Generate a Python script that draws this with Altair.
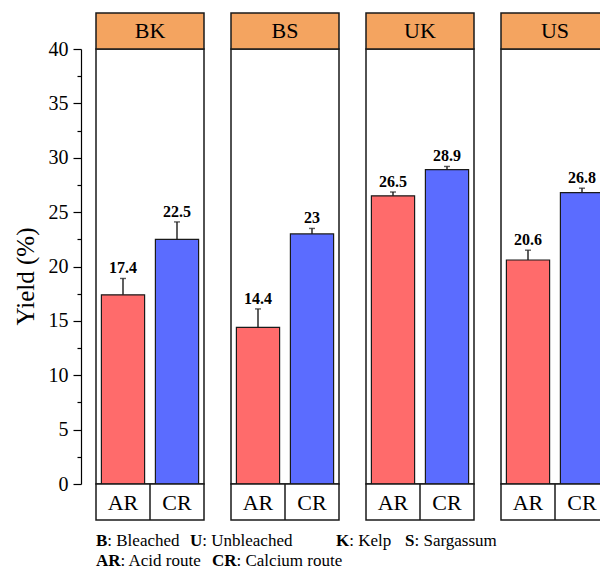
import altair as alt
import pandas as pd

# Yield of extraction per sample and route
samples = ["BK", "BS", "UK", "US"]
routes = ["AR", "CR"]
ar_yield = [17.4, 14.4, 26.5, 20.6]
cr_yield = [22.5, 23.0, 28.9, 26.8]
ar_err = [1.5, 1.7, 0.35, 0.9]
cr_err = [1.6, 0.5, 0.3, 0.4]
route_colors = ["#FF6B6B", "#5B6CFF"]
y_ticks = [0, 2.5, 5, 7.5, 10, 12.5, 15, 17.5, 20, 22.5, 25, 27.5, 30, 32.5, 35, 37.5, 40]

legend_keys = ["B", "U", "K", "S", "AR", "CR"]
legend_names = ["Bleached", "Unbleached", "Kelp", "Sargassum", "Acid route", "Calcium route"]

FONT = "Liberation Serif"
PW, PH, STRIP = 108, 435, 36
INK = "#1a1a1a"

y_scale = alt.Scale(domain=[0, 40], nice=False)
x_enc = alt.X("route:N", scale=alt.Scale(domain=routes, paddingInner=0, paddingOuter=0), axis=None)

y_axis = alt.Axis(
    values=y_ticks,
    labelExpr="datum.value % 5 === 0 ? datum.label : ''",
    tickSize={"condition": {"test": "datum.value % 5 === 0", "value": 8}, "value": 4},
    offset=15,
    grid=False,
    domainColor="black",
    domainWidth=1.2,
    tickColor="black",
    tickWidth=1.2,
    labelFont=FONT,
    labelFontSize=20,
    labelColor="black",
    labelPadding=5,
    title="Yield (%)",
    titleFont=FONT,
    titleFontSize=25,
    titleFontWeight="normal",
    titleColor="black",
    titlePadding=10,
    titleY=227,
)

# junction points (key | description) of the abbreviation notes below the panels
LEG_X = [11.3, 106.3, 253.2, 318.5, 24.5, 140.5]
LEG_Y = [497, 497, 497, 497, 517, 517]


def panel(i):
    df = pd.DataFrame({
        "route": routes,
        "yield": [ar_yield[i], cr_yield[i]],
        "err": [ar_err[i], cr_err[i]],
    })
    base = alt.Chart(df).transform_calculate(top="datum.yield + datum.err")
    axis = y_axis if i == 0 else None

    bars = base.mark_bar(
        width=alt.RelativeBandSize(0.8), stroke=INK, strokeWidth=1.2
    ).encode(
        x=x_enc,
        y=alt.Y("yield:Q", scale=y_scale, axis=axis),
        color=alt.Color("route:N", scale=alt.Scale(domain=routes, range=route_colors), legend=None),
    )
    whisker = base.mark_rule(color=INK, strokeWidth=1.4).encode(
        x=x_enc, y=alt.Y("yield:Q", axis=axis), y2="top:Q"
    )
    cap = base.mark_tick(color=INK, size=6, thickness=1.4).encode(
        x=x_enc, y=alt.Y("top:Q", axis=axis)
    )
    value_txt = base.mark_text(
        font=FONT, fontSize=16, fontWeight="bold", baseline="bottom", dy=-2, color="black"
    ).encode(x=x_enc, y=alt.Y("top:Q", axis=axis), text=alt.Text("yield:Q"))

    head_df = pd.DataFrame({"sample": [samples[i]]})
    head_box = alt.Chart(head_df).mark_rect(fill="#F4A460", stroke=INK, strokeWidth=1.5).encode(
        x=alt.value(0), x2=alt.value(PW), y=alt.value(-STRIP), y2=alt.value(0)
    )
    head_txt = alt.Chart(head_df).mark_text(font=FONT, fontSize=22, color="black", baseline="middle").encode(
        x=alt.value(PW / 2), y=alt.value(-STRIP / 2), text="sample:N"
    )
    foot_box = alt.Chart(head_df).mark_rect(fill="white", stroke=INK, strokeWidth=1.5).encode(
        x=alt.value(0), x2=alt.value(PW), y=alt.value(PH), y2=alt.value(PH + STRIP)
    )
    foot_div = alt.Chart(head_df).mark_rule(color=INK, strokeWidth=1.5).encode(
        x=alt.value(PW / 2), y=alt.value(PH), y2=alt.value(PH + STRIP)
    )
    foot_txt = alt.Chart(df).mark_text(font=FONT, fontSize=22, color="black", baseline="middle").encode(
        x=x_enc, y=alt.value(PH + STRIP / 2 + 1), text="route:N"
    )

    layers = [bars, whisker, cap, value_txt, head_box, head_txt, foot_box, foot_div, foot_txt]

    if i == 0:
        for k, name, lx, ly in zip(legend_keys, legend_names, LEG_X, LEG_Y):
            ldf = pd.DataFrame({"key": [k], "name": [": " + name]})
            layers.append(
                alt.Chart(ldf).mark_text(
                    font=FONT, fontSize=17, fontWeight="bold", align="right",
                    baseline="alphabetic", color="black",
                ).encode(x=alt.value(lx), y=alt.value(ly), text="key:N")
            )
            layers.append(
                alt.Chart(ldf).mark_text(
                    font=FONT, fontSize=17, align="left", baseline="alphabetic", color="black",
                ).encode(x=alt.value(lx), y=alt.value(ly), text="name:N")
            )

    return alt.layer(*layers).properties(width=PW, height=PH)


# the last panel runs past the right edge of the canvas and is cut there
chart = alt.hconcat(
    *[panel(i) for i in range(len(samples))], spacing=27, bounds="flush"
).properties(
    padding={"left": 12, "top": 11, "right": -11, "bottom": -2}
).configure_view(
    stroke=INK, strokeWidth=1.5
)

chart.save("out.html", embed_options={"renderer": "svg", "actions": False})
